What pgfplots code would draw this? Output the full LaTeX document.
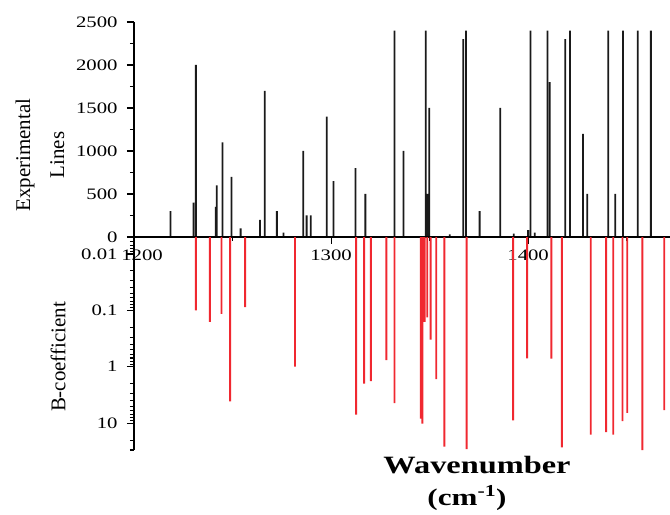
\documentclass[border=0pt]{standalone}
\usepackage{fontspec}
\setmainfont{Liberation Serif}
\newfontfamily\wfont{Liberation Serif}[FakeStretch=1.3]
\usepackage{pgfplots}
\pgfplotsset{compat=1.18}
\definecolor{stickred}{HTML}{F02830}
\definecolor{stickblk}{HTML}{1A1A1A}

% experimental lines: wavenumber, intensity
\pgfplotstableread{
wn v
1218.5 300
1230.2 400
1231.4 2000
1241.5 350
1242.0 600
1244.9 1100
1249.5 700
1254.1 100
1263.9 200
1266.4 1700
1272.5 300
1275.9 50
1285.9 1000
1287.6 250
1289.7 250
1297.8 1400
1301.2 650
1312.4 800
1317.4 500
1332.2 2400
1336.8 1000
1348.1 2400
1348.8 500
1349.8 1500
1360.2 30
1367.1 2300
1368.5 2400
1375.4 300
1385.9 1500
1392.7 40
1400.0 80
1401.2 2400
1403.4 50
1409.8 2400
1411.0 1800
1418.8 2300
1421.2 2400
1427.8 1200
1430.0 500
1440.7 2400
1444.2 500
1448.1 2400
1455.6 2400
1462.3 2400
}\explines

% B-coefficients: wavenumber, B
\pgfplotstableread{
wn b
1231.4 0.10
1238.5 0.16
1244.4 0.116
1248.8 4.1
1256.4 0.088
1281.7 1.0
1312.7 7.1
1316.8 2.0
1320.2 1.8
1328.1 0.76
1332.2 4.4
1345.6 8.3
1346.3 10.2
1346.9 0.157
1347.5 0.16
1348.8 0.133
1350.5 0.33
1353.4 1.66
1357.5 26
1368.8 29
1392.4 8.9
1399.5 0.71
1411.8 0.72
1417.1 27
1431.8 16
1439.6 14.5
1443.2 16
1447.9 9.2
1450.3 6.6
1458.0 30
1469.1 5.9
}\bcoef

\pgfplotsset{
  common/.style={
    scale only axis, width=536bp,
    xmin=1200, xmax=1472,
    clip=false,
    axis line style={draw=none},
    tick align=outside,
    major tick length=7bp, minor tick length=4bp,
    tick style={black, line width=1.1pt},
    tick label style={font=\wfont\fontsize{16}{16}\selectfont},
    yticklabel style={xshift=-6bp},
    /pgf/number format/assume math mode=true,
    /pgf/number format/1000 sep={},
  }
}

\begin{document}
\begin{tikzpicture}
\begin{axis}[
  common, name=top, height=215bp,
  ymin=0, ymax=2500,
  xtick pos=bottom, ytick pos=left,
  xtick={1300,1400}, minor xtick={1250,1350,1450},
  extra x ticks={1200},
  extra x tick style={xticklabel style={xshift=8bp}},
  ytick={0,500,...,2500}, minor ytick={250,750,...,2250},
  xticklabel style={yshift=-2bp},
]
\addplot[ybar, bar width=1.8bp, fill=stickblk, draw=none] table[x=wn, y=v] {\explines};
% axis lines
\draw[black, line width=1.1pt] (rel axis cs:0,1) -- (rel axis cs:0,0) -- (rel axis cs:1,0);
\end{axis}

\begin{axis}[
  common, at={(top.south west)}, anchor=north west, height=213bp,
  ymode=log, ymin=0.005, ymax=30, y dir=reverse,
  log origin y=infty,
  xtick=\empty, ytick pos=left,
  ytick={0.01,0.1,1,10}, yticklabels={0.01,0.1,1,10},
  minor ytick={0.006,0.007,0.008,0.009,0.02,0.03,0.04,0.05,0.06,0.07,0.08,0.09,
    0.2,0.3,0.4,0.5,0.6,0.7,0.8,0.9,2,3,4,5,6,7,8,9,20,30},
]
\addplot[ybar, bar width=1.9bp, fill=stickred, draw=none] table[x=wn, y=b] {\bcoef};
\draw[black, line width=1.1pt] (rel axis cs:0,0) -- (rel axis cs:0,1);
\end{axis}

\node[rotate=90, align=center, font=\fontsize{21}{34}\selectfont] at (-94bp,82bp) {Experimental\\Lines};
\node[rotate=90, font=\fontsize{21}{24}\selectfont] at (-76bp,-120bp) {B-coefficient};
\node[anchor=base, font=\wfont\bfseries\fontsize{25}{25}\selectfont] at (343bp,-236bp) {Wavenumber};
\node[anchor=base, font=\wfont\bfseries\fontsize{24}{24}\selectfont] at (333bp,-268bp) {(cm\textsuperscript{-1})};

\pgfresetboundingbox
\path[use as bounding box] (-134bp,-278bp) rectangle (536bp,237bp);
\end{tikzpicture}
\end{document}
